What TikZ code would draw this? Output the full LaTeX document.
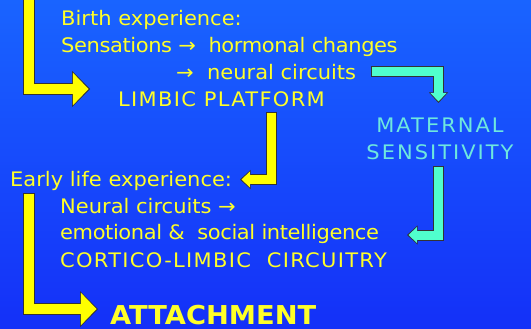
\documentclass[tikz,border=0pt]{standalone}
\usepackage{fontspec}
\setmainfont{DejaVu Sans}[FakeStretch=1.05]
\usetikzlibrary{arrows.meta}
\definecolor{SlideTop}{RGB}{25,100,255}
\definecolor{SlideMid}{RGB}{38,152,255}
\definecolor{SlideBot}{RGB}{20,48,248}
\definecolor{TextYellow}{RGB}{255,255,40}
\definecolor{ArrowYellow}{RGB}{255,255,0}
\definecolor{TextAqua}{RGB}{110,232,222}
\definecolor{ArrowAqua}{RGB}{80,255,205}
\tikzset{
  line/.style={TextYellow,font=\fontsize{20}{27}\selectfont,anchor=base west,inner sep=0pt},
  capsline/.style={line,font=\fontsize{20}{27}\selectfont\addfontfeatures{LetterSpace=6.5}},
  tightline/.style={line,font=\fontsize{20}{27}\selectfont\addfontfeatures{LetterSpace=-2}},
  % block arrows: dark rim first, colour on top
  bigarrow/.style={draw=black!80,line width=12.5pt,line join=miter,
    -{Triangle[length=18pt,width=36pt,line width=0pt]},
    postaction={draw=#1,line width=10.5pt,shorten >=1.5pt,shorten <=1pt,
      -{Triangle[length=15.6pt,width=32.5pt,line width=0pt]}}},
  smallarrow/.style={draw=black!80,line width=11pt,line join=miter,
    -{Triangle[length=10.5pt,width=19pt,line width=0pt]},
    postaction={draw=#1,line width=9pt,shorten >=1.5pt,shorten <=1pt,
      -{Triangle[length=8.4pt,width=15.8pt,line width=0pt]}}}
}
\begin{document}
\begin{tikzpicture}[x=1pt,y=-1pt]
 \useasboundingbox (0,0) rectangle (531,329);
 \shade[top color=SlideTop,middle color=SlideMid,bottom color=SlideBot] (0,0) rectangle (531,329);
 % birth block
 \node[line] (birth) at (61,26) {Birth experience:};
 \node[tightline] (sens) at (61,53) {Sensations →\ \ hormonal changes};
 \node[line] (neural) at (176,80) {→\ \ neural circuits};
 \node[capsline] (limbic) at (118,107) {LIMBIC PLATFORM};
 % maternal side
 \node[TextAqua,font=\fontsize{20}{27}\selectfont\addfontfeatures{LetterSpace=10},
   align=center,inner sep=0pt] (maternal) at (440,138.5) {MATERNAL\\SENSITIVITY};
 % early life block
 \node[line] (early) at (10,186) {Early life experience:};
 \node[line] (ncirc) at (60,213) {Neural circuits →};
 \node[tightline] (emo) at (60,240) {emotional \&\ \ social intelligence};
 \node[capsline] (cortico) at (60,267) {CORTICO-LIMBIC\ \ CIRCUITRY};
 \node[line,font=\fontsize{26}{30}\bfseries] (attach) at (110,324) {ATTACHMENT};
 % arrow ends
 \coordinate (topin) at (29,-6);
 \coordinate (intoLimbic) at (90,89);
 \coordinate (fromLimbic) at (271.5,112);
 \coordinate (intoEarly) at (240,179.5);
 \coordinate (fromNeural) at (371,72);
 \coordinate (intoMaternal) at (438.5,103);
 \coordinate (fromMaternal) at (438,166);
 \coordinate (intoEmo) at (407,235);
 \coordinate (fromEarly) at (29,193);
 \coordinate (intoAttach) at (98,309);
 % arrows
 \draw[bigarrow=ArrowYellow] (topin) |- (intoLimbic);
 \draw[smallarrow=ArrowYellow] (fromLimbic) |- (intoEarly);
 \draw[smallarrow=ArrowAqua] (fromNeural) -| (intoMaternal);
 \draw[smallarrow=ArrowAqua] (fromMaternal) |- (intoEmo);
 \draw[bigarrow=ArrowYellow] (fromEarly) |- (intoAttach);
\end{tikzpicture}
\end{document}
